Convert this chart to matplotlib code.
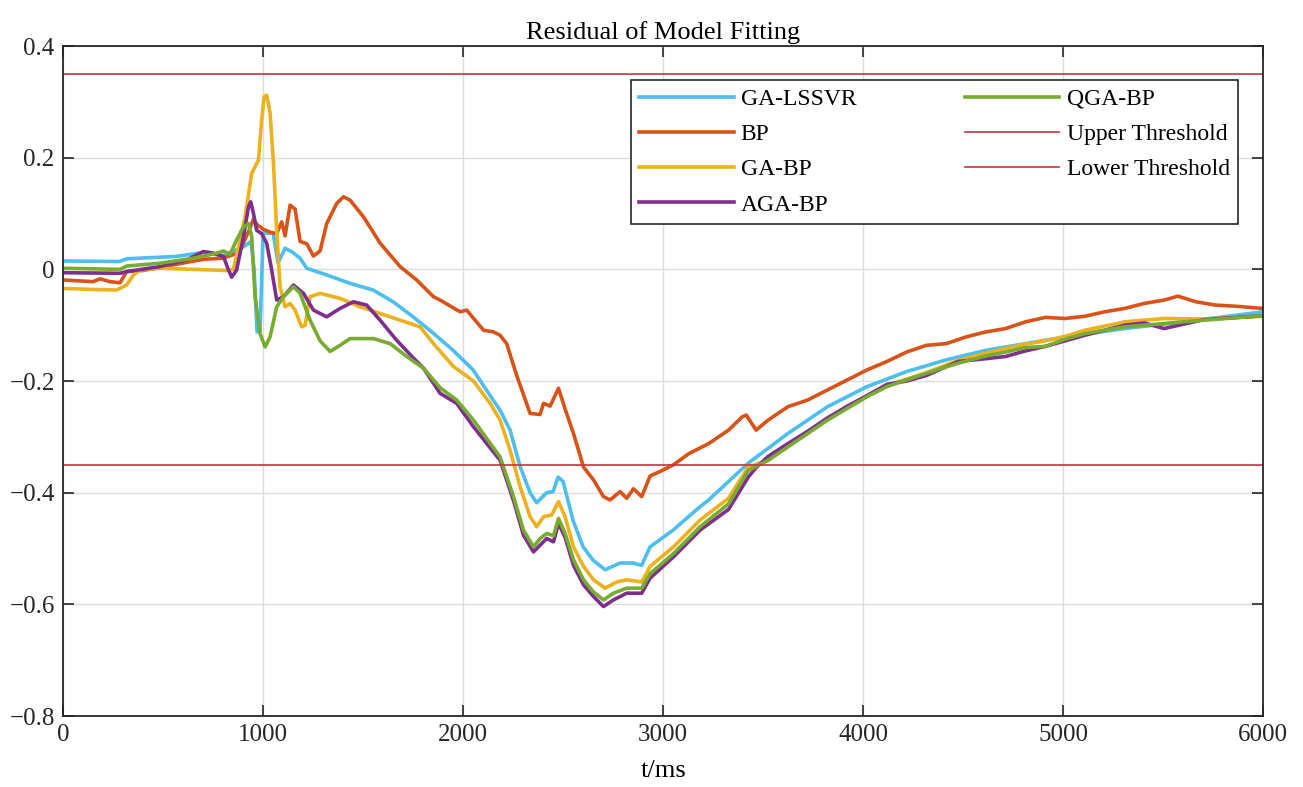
import matplotlib
matplotlib.use("Agg")
from matplotlib import pyplot as plt

plt.rcParams['font.family'] = ['Liberation Serif', 'DejaVu Serif']

# residual curves (t in ms, residual value)
ga_lssvr_t = [0, 280, 320, 560, 700, 800, 900, 940, 955, 970, 985, 1000, 1050, 1075, 1110, 1150,
              1185, 1218, 1318, 1435, 1550, 1650, 1750, 1850, 1950, 2050, 2150, 2185, 2235, 2285,
              2335, 2368, 2418, 2450, 2475, 2500, 2550, 2600, 2650, 2710, 2785, 2850, 2893, 2935,
              3050, 3185, 3228, 3426, 3624, 3822, 4020, 4218, 4416, 4614, 4812, 5010, 5307, 5604, 6000]
ga_lssvr_y = [0.015, 0.014, 0.019, 0.023, 0.030, 0.025, 0.040, 0.050, 0.0, -0.112, -0.110, 0.065,
              0.065, 0.012, 0.038, 0.030, 0.020, 0.002, -0.010, -0.025, -0.037, -0.058, -0.085,
              -0.114, -0.145, -0.180, -0.234, -0.252, -0.288, -0.353, -0.400, -0.418, -0.400, -0.398,
              -0.372, -0.380, -0.450, -0.497, -0.521, -0.538, -0.526, -0.526, -0.530, -0.497,
              -0.467, -0.425, -0.413, -0.347, -0.294, -0.246, -0.210, -0.183, -0.162, -0.145,
              -0.133, -0.121, -0.106, -0.094, -0.076]

bp_t = [0, 150, 185, 235, 285, 318, 400, 550, 700, 800, 880, 930, 952, 970, 1000, 1040, 1068, 1093,
        1110, 1135, 1160, 1185, 1218, 1252, 1285, 1318, 1368, 1402, 1435, 1502, 1585, 1685, 1768,
        1852, 1885, 1985, 2018, 2102, 2152, 2185, 2218, 2268, 2335, 2385, 2402, 2435, 2477, 2510,
        2552, 2602, 2652, 2702, 2735, 2785, 2818, 2852, 2893, 2935, 2985, 3052, 3129, 3228, 3327,
        3396, 3416, 3465, 3525, 3624, 3723, 3822, 3921, 4020, 4119, 4218, 4317, 4416, 4515, 4614,
        4713, 4812, 4911, 5010, 5109, 5208, 5307, 5406, 5505, 5574, 5663, 5762, 5861, 6000]
bp_y = [-0.019, -0.022, -0.017, -0.022, -0.024, -0.004, -0.002, 0.008, 0.018, 0.020, 0.030, 0.070,
        0.090, 0.080, 0.072, 0.066, 0.064, 0.085, 0.060, 0.115, 0.108, 0.050, 0.046, 0.024, 0.033,
        0.082, 0.118, 0.130, 0.124, 0.094, 0.047, 0.005, -0.019, -0.049, -0.055, -0.076, -0.073,
        -0.109, -0.112, -0.118, -0.133, -0.190, -0.258, -0.260, -0.240, -0.245, -0.213, -0.250,
        -0.294, -0.354, -0.377, -0.407, -0.413, -0.398, -0.410, -0.393, -0.407, -0.370, -0.362,
        -0.350, -0.330, -0.312, -0.288, -0.264, -0.261, -0.288, -0.270, -0.246, -0.234, -0.216,
        -0.198, -0.180, -0.165, -0.148, -0.136, -0.133, -0.121, -0.112, -0.106, -0.094, -0.086,
        -0.088, -0.084, -0.076, -0.070, -0.061, -0.055, -0.048, -0.058, -0.064, -0.066, -0.070]

ga_bp_t = [0, 150, 268, 318, 352, 385, 485, 652, 818, 852, 910, 943, 977, 993, 1005, 1018, 1035, 1052,
           1068, 1085, 1110, 1135, 1160, 1193, 1210, 1235, 1285, 1385, 1485, 1585, 1685, 1785, 1852,
           1952, 2052, 2135, 2185, 2235, 2285, 2335, 2368, 2402, 2443, 2477, 2510, 2552, 2602, 2652,
           2710, 2768, 2818, 2893, 2935, 3052, 3185, 3327, 3426, 3525, 3624, 3723, 3822, 3921, 4020,
           4119, 4317, 4475, 4614, 4713, 4812, 4911, 5010, 5109, 5307, 5505, 5703, 6000]
ga_bp_y = [-0.034, -0.036, -0.037, -0.028, -0.010, -0.001, 0.002, 0.0, -0.002, 0.0, 0.094, 0.172,
           0.196, 0.267, 0.309, 0.312, 0.280, 0.190, 0.070, -0.031, -0.067, -0.061, -0.073, -0.103,
           -0.100, -0.049, -0.043, -0.052, -0.067, -0.079, -0.091, -0.103, -0.133, -0.174, -0.200,
           -0.240, -0.270, -0.324, -0.389, -0.443, -0.461, -0.443, -0.440, -0.416, -0.443, -0.497,
           -0.532, -0.556, -0.571, -0.560, -0.556, -0.560, -0.532, -0.497, -0.449, -0.410, -0.354,
           -0.342, -0.316, -0.292, -0.268, -0.247, -0.226, -0.208, -0.185, -0.163, -0.150, -0.142,
           -0.134, -0.128, -0.120, -0.109, -0.094, -0.088, -0.089, -0.084]

aga_bp_t = [0, 285, 318, 485, 618, 702, 752, 802, 827, 843, 868, 902, 927, 938, 952, 968, 993, 1018,
            1043, 1068, 1102, 1152, 1202, 1252, 1318, 1385, 1452, 1518, 1585, 1668, 1752, 1802, 1885,
            1968, 2052, 2185, 2252, 2302, 2352, 2418, 2452, 2477, 2510, 2552, 2602, 2652, 2702, 2752,
            2818, 2893, 2935, 3052, 3185, 3327, 3426, 3465, 3525, 3624, 3723, 3822, 3921, 4020, 4119,
            4218, 4317, 4475, 4614, 4713, 4812, 4911, 5010, 5109, 5307, 5406, 5505, 5703, 6000]
aga_bp_y = [-0.006, -0.007, -0.004, 0.005, 0.017, 0.032, 0.029, 0.023, -0.001, -0.014, -0.001, 0.059,
            0.112, 0.121, 0.100, 0.070, 0.064, 0.047, -0.001, -0.055, -0.049, -0.028, -0.043, -0.073,
            -0.085, -0.070, -0.058, -0.064, -0.091, -0.127, -0.159, -0.177, -0.222, -0.240, -0.282,
            -0.342, -0.414, -0.476, -0.506, -0.482, -0.488, -0.455, -0.480, -0.530, -0.565, -0.586,
            -0.604, -0.592, -0.580, -0.580, -0.553, -0.515, -0.467, -0.430, -0.372, -0.355, -0.335,
            -0.312, -0.290, -0.266, -0.245, -0.226, -0.206, -0.200, -0.190, -0.165, -0.160, -0.156,
            -0.146, -0.138, -0.128, -0.118, -0.100, -0.096, -0.106, -0.090, -0.083]

qga_bp_t = [0, 285, 318, 485, 652, 768, 802, 835, 868, 902, 927, 943, 960, 985, 1010, 1035, 1068, 1102,
            1152, 1185, 1235, 1285, 1335, 1385, 1435, 1552, 1635, 1718, 1802, 1885, 1968, 2052, 2185,
            2252, 2302, 2352, 2385, 2418, 2452, 2477, 2510, 2552, 2602, 2652, 2702, 2752, 2818, 2893,
            2935, 3052, 3185, 3327, 3426, 3465, 3525, 3624, 3723, 3822, 3921, 4020, 4119, 4317, 4475,
            4614, 4713, 4812, 4911, 5010, 5109, 5307, 5505, 5703, 6000]
qga_bp_y = [0.002, 0.0, 0.006, 0.011, 0.020, 0.029, 0.033, 0.027, 0.053, 0.076, 0.082, 0.059, -0.049,
            -0.115, -0.139, -0.121, -0.067, -0.049, -0.031, -0.043, -0.091, -0.128, -0.147, -0.136,
            -0.124, -0.124, -0.133, -0.156, -0.177, -0.212, -0.234, -0.270, -0.336, -0.407, -0.467,
            -0.497, -0.482, -0.473, -0.477, -0.446, -0.473, -0.520, -0.556, -0.578, -0.592, -0.580,
            -0.571, -0.571, -0.545, -0.509, -0.461, -0.420, -0.360, -0.353, -0.342, -0.318, -0.294,
            -0.270, -0.249, -0.228, -0.210, -0.186, -0.168, -0.155, -0.148, -0.140, -0.138, -0.125,
            -0.115, -0.103, -0.097, -0.091, -0.083]

upper_threshold = 0.35
lower_threshold = -0.35

x_ticks = [0, 1000, 2000, 3000, 4000, 5000, 6000]
y_ticks = [-0.8, -0.6, -0.4, -0.2, 0, 0.2, 0.4]
y_tick_labels = ['\u22120.8', '\u22120.6', '\u22120.4', '\u22120.2', '0', '0.2', '0.4']

fig = plt.figure(figsize=(13.03, 7.87), dpi=100)
ax = fig.add_axes([0.0484, 0.0902, 0.9210, 0.8513])

lw = 2.6
ax.plot(ga_lssvr_t, ga_lssvr_y, color='#4DBEEE', lw=lw, label='GA-LSSVR')
ax.plot(bp_t, bp_y, color='#D95319', lw=lw, label='BP')
ax.plot(ga_bp_t, ga_bp_y, color='#EDB120', lw=lw, label='GA-BP')
ax.plot(aga_bp_t, aga_bp_y, color='#7E2F8E', lw=lw, label='AGA-BP')
ax.plot(qga_bp_t, qga_bp_y, color='#77AC30', lw=lw, label='QGA-BP')
ax.axhline(upper_threshold, color='#C8323C', lw=1.2, label='Upper Threshold')
ax.axhline(lower_threshold, color='#C8323C', lw=1.2, label='Lower Threshold')

ax.set_xlim(0, 6000)
ax.set_ylim(-0.8, 0.4)
ax.set_xticks(x_ticks)
ax.set_yticks(y_ticks)
ax.set_yticklabels(y_tick_labels)
ax.tick_params(direction='in', length=8, width=1.2, labelsize=18, top=True, right=True,
               colors='#262626', pad=6)
ax.grid(True, color='#DCDCDC', lw=1.0)
ax.set_axisbelow(True)
for s in ax.spines.values():
    s.set_color('#262626')
    s.set_linewidth(1.3)

ax.set_title('Residual of Model Fitting', fontsize=19, pad=5)
ax.set_xlabel('t/ms', fontsize=19, labelpad=10)

leg = ax.legend(ncol=2, loc='upper right', bbox_to_anchor=(0.979, 0.949), borderaxespad=0,
                fontsize=17, fancybox=False, framealpha=1, edgecolor='#262626',
                handlelength=4.0, handletextpad=0.3, columnspacing=4.6, labelspacing=0.58,
                borderpad=0.35)
leg.get_frame().set_linewidth(1.2)

fig.savefig('out.png', dpi=100)
